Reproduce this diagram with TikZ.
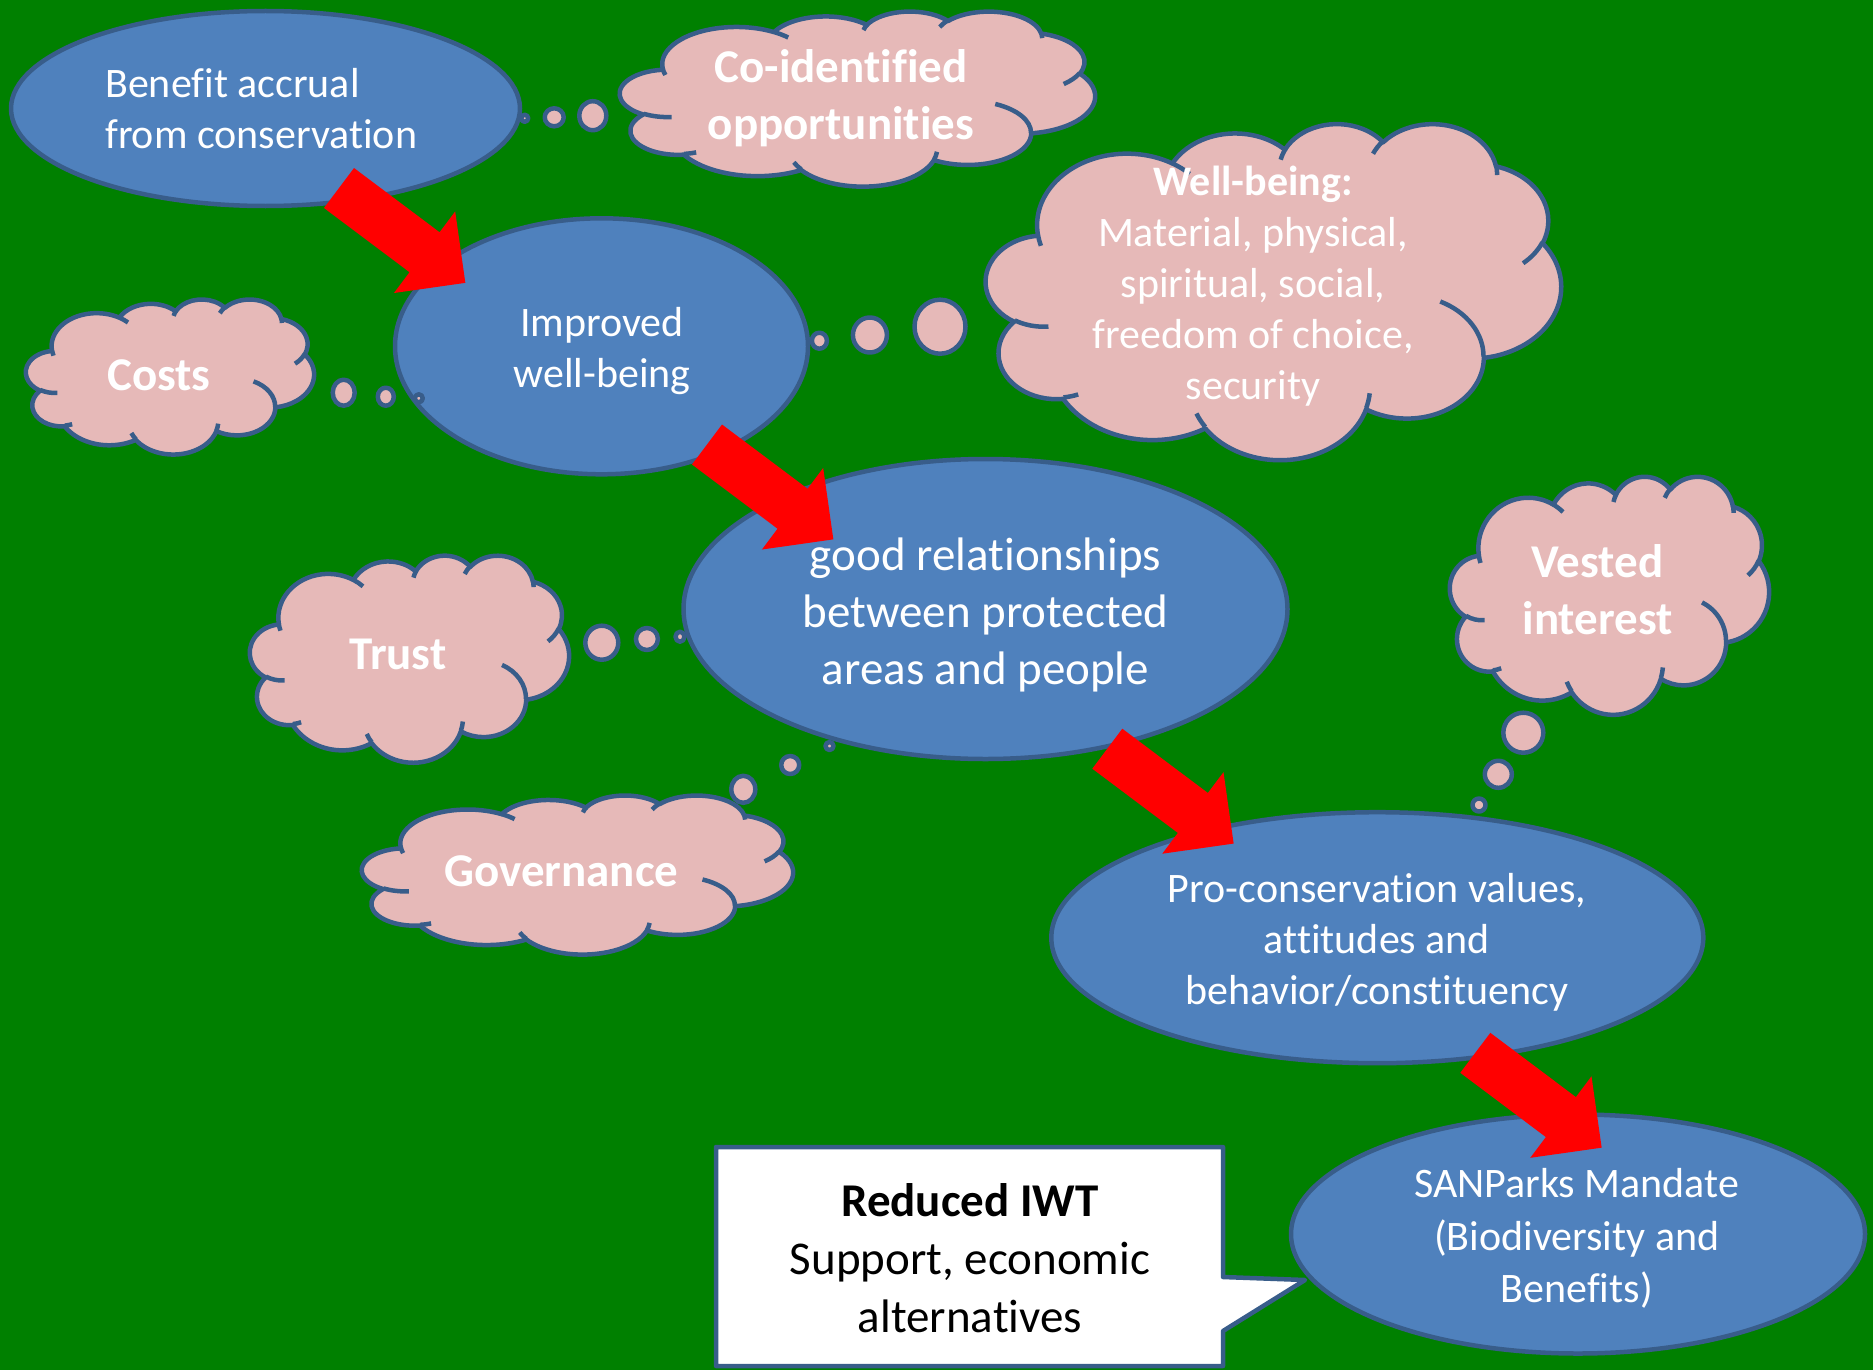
\documentclass[tikz,border=0pt]{standalone}
\usepackage{fontspec}
\setmainfont{Carlito}[Ligatures=NoCommon]
\usetikzlibrary{shapes.geometric}

\definecolor{bggreen}{HTML}{008000}
\definecolor{ellfill}{HTML}{4F81BD}
\definecolor{edgeblue}{HTML}{385D8A}
\definecolor{cloudfill}{HTML}{E6B9B8}
\definecolor{arrowred}{HTML}{FF0000}

% elliptical arc given by visual start/sweep angles (degrees), appended to the current path
\newcommand\ooarc[4]{%
  \pgfextra{%
    \pgfmathsetmacro\ooS{#3}%
    \pgfmathsetmacro\ooE{#3+#4}%
    \pgfmathsetmacro\tS{atan2(#1*sin(\ooS),#2*cos(\ooS))}%
    \pgfmathsetmacro\tS{\tS+360*round((\ooS-\tS)/360)}%
    \pgfmathsetmacro\tE{atan2(#1*sin(\ooE),#2*cos(\ooE))}%
    \pgfmathsetmacro\tE{\tE+360*round((\ooE-\tE)/360)}%
    \global\let\gtS\tS \global\let\gtE\tE}%
  arc[start angle=\gtS, end angle=\gtE, x radius=#1, y radius=#2]}

% cloud outline with its inner creases, fitted to the box left/top/width/height
\newcommand\cloudshape[4]{%
  \pgfmathsetmacro\cldx{#3/43.2}%
  \pgfmathsetmacro\cldy{#4/43.2}%
  \begin{scope}[shift={(#1,#2)}, x=\cldx pt, y=-\cldy pt]
    \path[thought] (3.9,14.37)
      \ooarc{6.753}{9.19}{-190.4875}{123.7805}
      \ooarc{5.333}{7.267}{-144.1024}{89.9452}
      \ooarc{4.365}{5.945}{-145.8079}{99.7230}
      \ooarc{4.857}{6.595}{-130.9861}{117.2417}
      \ooarc{5.333}{7.273}{-78.7089}{109.0269}
      \ooarc{6.775}{9.22}{-46.2673}{130.2690}
      \ooarc{5.785}{7.867}{0.6250}{114.0333}
      \ooarc{6.752}{9.215}{22.4516}{115.1726}
      \ooarc{7.72}{10.543}{66.2426}{75.7110}
      \ooarc{4.36}{5.918}{-274.9421}{146.7356}
      \ooarc{4.345}{5.945}{-246.8285}{152.5189}
      -- cycle;
    \path[crease]
      (4.693,26.177) \ooarc{4.345}{5.945}{86.7420}{26.4295}
      (6.928,34.899) \ooarc{4.36}{5.918}{73.6105}{11.4475}
      (16.478,39.09) \ooarc{6.752}{9.215}{137.6242}{14.0811}
      (28.827,34.751) \ooarc{6.752}{9.215}{6.4533}{15.9984}
      (34.129,22.954) \ooarc{5.785}{7.867}{-70.2924}{70.9174}
      (41.798,15.354) \ooarc{5.333}{7.273}{30.3180}{27.7515}
      (38.324,5.426) \ooarc{4.857}{6.595}{-13.7443}{14.8589}
      (29.078,3.952) \ooarc{4.857}{6.595}{-149.1815}{18.1954}
      (22.141,4.72) \ooarc{4.365}{5.945}{-163.4943}{17.6864}
      (14.0,5.192) \ooarc{6.753}{9.19}{-66.7070}{12.3194}
      (4.127,15.789) \ooarc{6.753}{9.19}{157.6544}{11.8582};
  \end{scope}}

\begin{document}
\begin{tikzpicture}[x=1pt, y=-1pt, line join=round]
\tikzset{
  bluell/.style={ellipse, draw=edgeblue, fill=ellfill, line width=4.5pt, inner sep=0pt},
  thought/.style={draw=edgeblue, fill=cloudfill, line width=4.5pt},
  crease/.style={draw=edgeblue, line width=4.5pt},
  wtext/.style={text=white, inner sep=0pt, align=center, font=\fontsize{42}{51}\selectfont},
  wlarge/.style={text=white, inner sep=0pt, align=center, font=\fontsize{47}{57}\selectfont},
  wbold/.style={text=white, inner sep=0pt, align=center, font=\fontsize{47}{57}\selectfont\bfseries},
  boxtext/.style={text=black, inner sep=0pt, align=center, font=\fontsize{47}{58}\selectfont},
  calloutbox/.style={draw=edgeblue, fill=white, line width=4.5pt},
  blockarrow/.pic={\fill[arrowred] (0,-25) -- (107,-25) -- (107,-51) -- (158,0)
                     -- (107,51) -- (107,25) -- (0,25) -- cycle;}
}
\useasboundingbox (0,0) rectangle (1873,1370);
\fill[bggreen] (0,0) rectangle (1873,1370);

% callout box with its pointer towards the mandate
\path[calloutbox] (716,1147) -- (1223,1147) -- (1223,1277) -- (1305,1280)
  -- (1223,1331) -- (1223,1366) -- (716,1366) -- cycle;

% main stages
\node[bluell, minimum width=509, minimum height=195] (benefit) at (265.5,108.5) {};
\node[bluell, minimum width=413, minimum height=256] (improved) at (601.5,346.3) {};
\node[bluell, minimum width=604, minimum height=300] (relations) at (985.5,609) {};
\node[bluell, minimum width=652, minimum height=251] (procons) at (1377.3,937.7) {};
\node[bluell, minimum width=574, minimum height=239] (mandate) at (1578,1234) {};

% thought clouds
\cloudshape{620}{11}{475}{175}
\cloudshape{986}{123}{575}{336}
\cloudshape{26}{299}{288}{155}
\cloudshape{250}{555}{319}{207}
\cloudshape{362}{795}{431}{159}
\cloudshape{1450}{476}{319}{238}

% thought bubbles
\path[thought] (524.7,118.3) ellipse [x radius=3.5, y radius=3.5];
\path[thought] (554.2,117.3) ellipse [x radius=9.5, y radius=9];
\path[thought] (592.8,115.7) ellipse [x radius=13.5, y radius=14.5];

\path[thought] (819.4,340.7) ellipse [x radius=7.5, y radius=8];
\path[thought] (869.9,335) ellipse [x radius=17, y radius=17.5];
\path[thought] (940,326.7) ellipse [x radius=25.5, y radius=27];

\path[thought] (343.7,392.7) ellipse [x radius=11, y radius=13];
\path[thought] (385.8,396.7) ellipse [x radius=8, y radius=9];
\path[thought] (418.8,398.3) ellipse [x radius=4, y radius=4];

\path[thought] (601.8,642.7) ellipse [x radius=16.5, y radius=17];
\path[thought] (646.9,639) ellipse [x radius=11, y radius=11];
\path[thought] (680,636.7) ellipse [x radius=4.5, y radius=5];

\path[thought] (743.3,789.3) ellipse [x radius=12, y radius=13.5];
\path[thought] (790.2,765) ellipse [x radius=9, y radius=9];
\path[thought] (829.5,746) ellipse [x radius=4, y radius=4];

\path[thought] (1523.3,732.7) ellipse [x radius=20, y radius=20];
\path[thought] (1498.3,774.3) ellipse [x radius=13.5, y radius=13.5];
\path[thought] (1479,805) ellipse [x radius=6.5, y radius=6.5];

% red block arrows between the stages
\pic[rotate=-36.9] (arrowA) at (339,188) {blockarrow};
\pic[rotate=-36.9] (arrowB) at (707,444.5) {blockarrow};
\pic[rotate=-36.9] (arrowC) at (1107.3,748.7) {blockarrow};
\pic[rotate=-36.9] (arrowD) at (1475.3,1052.8) {blockarrow};

% texts
\node[wtext, anchor=west, align=left] (benefitTxt) at (105,109) {Benefit accrual\\from conservation};
\node[wbold] (coidTxt) at (841,98) {Co-identified\\opportunities};
\node[wtext] (improvedTxt) at (602,350.6) {Improved\\well-being};
\node[wbold] (costsTxt) at (159,375) {Costs};
\node[wtext] (wellTxt) at (1253,286) {\textbf{Well-being:}\\Material, physical,\\spiritual, social,\\freedom of choice,\\security};
\node[wlarge] (relationsTxt) at (985.5,614.6) {good relationships\\between protected\\areas and people};
\node[wbold] (trustTxt) at (397.8,654.6) {Trust};
\node[wbold] (govTxt) at (561.4,870.8) {Governance};
\node[wbold] (vestedTxt) at (1597.5,589.4) {Vested\\interest};
\node[wtext] (proconsTxt) at (1377,941.8) {Pro-conservation values,\\attitudes and\\behavior/constituency};
\node[wtext, font=\fontsize{42}{52.5}\selectfont] (mandateTxt) at (1576.7,1238.6) {SANParks Mandate\\(Biodiversity and\\Benefits)};
\node[boxtext] (iwtTxt) at (970,1258.1) {\textbf{Reduced IWT}\\Support, economic\\alternatives};
\end{tikzpicture}
\end{document}
